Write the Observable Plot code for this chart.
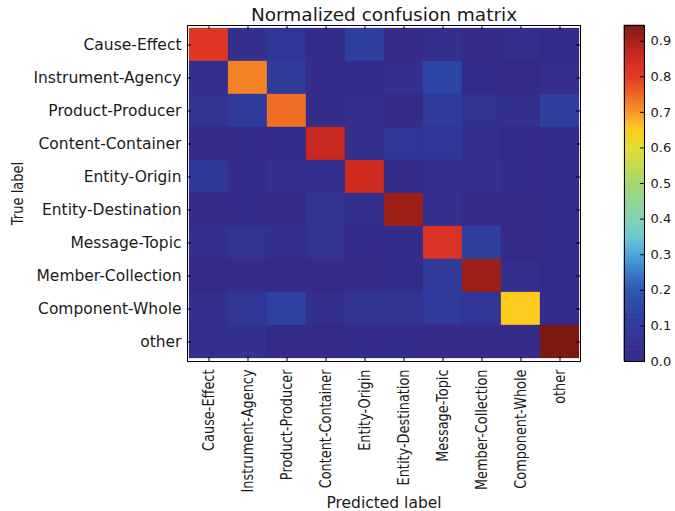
<!DOCTYPE html>
<html>
<head>
<meta charset="utf-8">
<script src="https://cdn.jsdelivr.net/npm/d3@7"></script>
<script src="https://cdn.jsdelivr.net/npm/@observablehq/plot@0.6"></script>
<style>
  html, body { margin: 0; padding: 0; background: #fff; }
  #wrap { position: relative; width: 675px; height: 511px; font-family: "DejaVu Sans", sans-serif; }
  #wrap svg { position: absolute; left: 0; top: 0; overflow: visible; }
</style>
</head>
<body>
<div id="wrap"></div>
<script>
const title = "Normalized confusion matrix";
const xLabel = "Predicted label";
const yLabel = "True label";
const labels = ["Cause-Effect","Instrument-Agency","Product-Producer","Content-Container","Entity-Origin","Entity-Destination","Message-Topic","Member-Collection","Component-Whole","other"];

// rows = true label, columns = predicted label
const rowCauseEffect       = [0.81, 0.05, 0.08, 0.02, 0.12, 0.01, 0.03, 0.01, 0.03, 0.02];
const rowInstrumentAgency  = [0.04, 0.72, 0.10, 0.02, 0.02, 0.04, 0.15, 0.02, 0.01, 0.03];
const rowProductProducer   = [0.06, 0.10, 0.74, 0.02, 0.03, 0.01, 0.10, 0.06, 0.05, 0.12];
const rowContentContainer  = [0.01, 0.02, 0.02, 0.86, 0.03, 0.08, 0.08, 0.03, 0.02, 0.02];
const rowEntityOrigin      = [0.09, 0.02, 0.05, 0.04, 0.85, 0.01, 0.05, 0.05, 0.02, 0.02];
const rowEntityDestination = [0.01, 0.02, 0.01, 0.06, 0.04, 0.91, 0.04, 0.01, 0.01, 0.02];
const rowMessageTopic      = [0.04, 0.06, 0.04, 0.06, 0.02, 0.02, 0.82, 0.12, 0.01, 0.02];
const rowMemberCollection  = [0.01, 0.01, 0.01, 0.01, 0.01, 0.02, 0.10, 0.91, 0.03, 0.02];
const rowComponentWhole    = [0.04, 0.08, 0.13, 0.04, 0.06, 0.06, 0.10, 0.08, 0.65, 0.02];
const rowOther             = [0.03, 0.05, 0.01, 0.01, 0.02, 0.02, 0.01, 0.01, 0.01, 0.94];
const rows = [rowCauseEffect,rowInstrumentAgency,rowProductProducer,rowContentContainer,rowEntityOrigin,rowEntityDestination,rowMessageTopic,rowMemberCollection,rowComponentWhole,rowOther];

const colorbarTicks = [0, 0.1, 0.2, 0.3, 0.4, 0.5, 0.6, 0.7, 0.8, 0.9];
const colorMax = 0.944;
const colorStops  = [0.00, 0.05, 0.10, 0.15, 0.20, 0.25, 0.30, 0.35, 0.40, 0.45, 0.50, 0.55, 0.60, 0.65, 0.70, 0.75, 0.80, 0.85, 0.90, 0.944];
const colorValues = ["#352a87","#33308f","#2f3a9b","#2e46a5","#2f55b0","#3a7bc4","#4aa8d8","#6cc8cf","#7fd3b4","#8fd693","#a3d86c","#c4da4b","#e4dc30","#fccb1e","#f79625","#ee6424","#e23826","#cf2a20","#a8201a","#7a1711"];

const cells = [];
rows.forEach((r, i) => r.forEach((v, j) => cells.push({truth: labels[i], pred: labels[j], v})));

const colorOpts = {type: "linear", domain: colorStops, range: colorValues, interpolate: "rgb", clamp: true};

const W = 675, H = 511;
const mTop = 25, mBottom = 150, mLeft = 187, mRight = 95;
const plotH = H - mTop - mBottom;
const plotW = W - mLeft - mRight;
const textColor = "#1a1a1a";

const main = Plot.plot({
  width: W, height: H,
  marginTop: mTop, marginBottom: mBottom, marginLeft: mLeft, marginRight: mRight,
  style: {fontFamily: "DejaVu Sans, sans-serif", fontSize: "15px", color: textColor, background: "transparent"},
  x: {domain: labels, padding: 0},
  y: {domain: labels, padding: 0},
  color: colorOpts,
  marks: [
    Plot.cell(cells, {x: "pred", y: "truth", fill: "v", inset: 0, stroke: "v", strokeWidth: 0.3}),
    Plot.frame({stroke: "#000", strokeWidth: 1}),
    // inner ticks (matplotlib style)
    Plot.tickX(labels, {x: d => d, insetTop: plotH - 4, stroke: "#000"}),
    Plot.tickX(labels, {x: d => d, insetBottom: plotH - 4, stroke: "#000"}),
    Plot.tickY(labels, {y: d => d, insetRight: plotW - 4, stroke: "#000"}),
    Plot.tickY(labels, {y: d => d, insetLeft: plotW - 4, stroke: "#000"}),
    Plot.axisY({tickSize: 0, tickPadding: 6, fontSize: 15.5, label: null}),
    Plot.axisX({tickSize: 0, tickPadding: 8, tickRotate: -90, fontSize: 15, label: null}),
    Plot.text([xLabel], {frameAnchor: "bottom", dy: 146, fontSize: 15.5, lineAnchor: "bottom", fill: textColor}),
    Plot.text([yLabel], {frameAnchor: "left", dx: -169, rotate: -90, textAnchor: "middle", fontSize: 15, fill: textColor, className: "ylab"}),
    Plot.text([title], {frameAnchor: "top", dy: -5, lineAnchor: "bottom", fontSize: 18.5, fill: textColor})
  ]
});

// compress the length of rotated texts (reference picture is anisotropically scaled)
d3.select(main).selectAll('g[aria-label="x-axis tick label"] text').each(function() {
  const t = this.getAttribute("transform") || "";
  this.setAttribute("transform", t + " scale(0.86,1)");
});
d3.select(main).selectAll('.ylab text').each(function() {
  const t = this.getAttribute("transform") || "";
  this.setAttribute("transform", t + " scale(0.87,1)");
});

const cbLeft = 624, cbRight = W - 644;
const step = 0.002;
const ramp = d3.range(0, colorMax, step);
const bar = Plot.plot({
  width: W, height: H,
  marginTop: mTop, marginBottom: mBottom, marginLeft: cbLeft, marginRight: cbRight,
  style: {fontFamily: "DejaVu Sans, sans-serif", fontSize: "12.5px", color: textColor, background: "transparent"},
  x: {domain: [0, 1], axis: null},
  y: {domain: [0, colorMax], axis: null},
  color: colorOpts,
  marks: [
    Plot.rect(ramp, {x1: 0, x2: 1, y1: d => d, y2: d => Math.min(colorMax, d + step), fill: d => d, stroke: d => d, strokeWidth: 0.6}),
    Plot.frame({stroke: "#000", strokeWidth: 1}),
    Plot.tickY(colorbarTicks, {y: d => d, insetLeft: 20 - 4, stroke: "#000"}),
    Plot.axisY(colorbarTicks, {anchor: "right", tickSize: 0, tickPadding: 6, tickFormat: d3.format(".1f"), fontSize: 13, label: null})
  ]
});

const wrap = document.getElementById("wrap");
wrap.appendChild(main);
wrap.appendChild(bar);
</script>
</body>
</html>
